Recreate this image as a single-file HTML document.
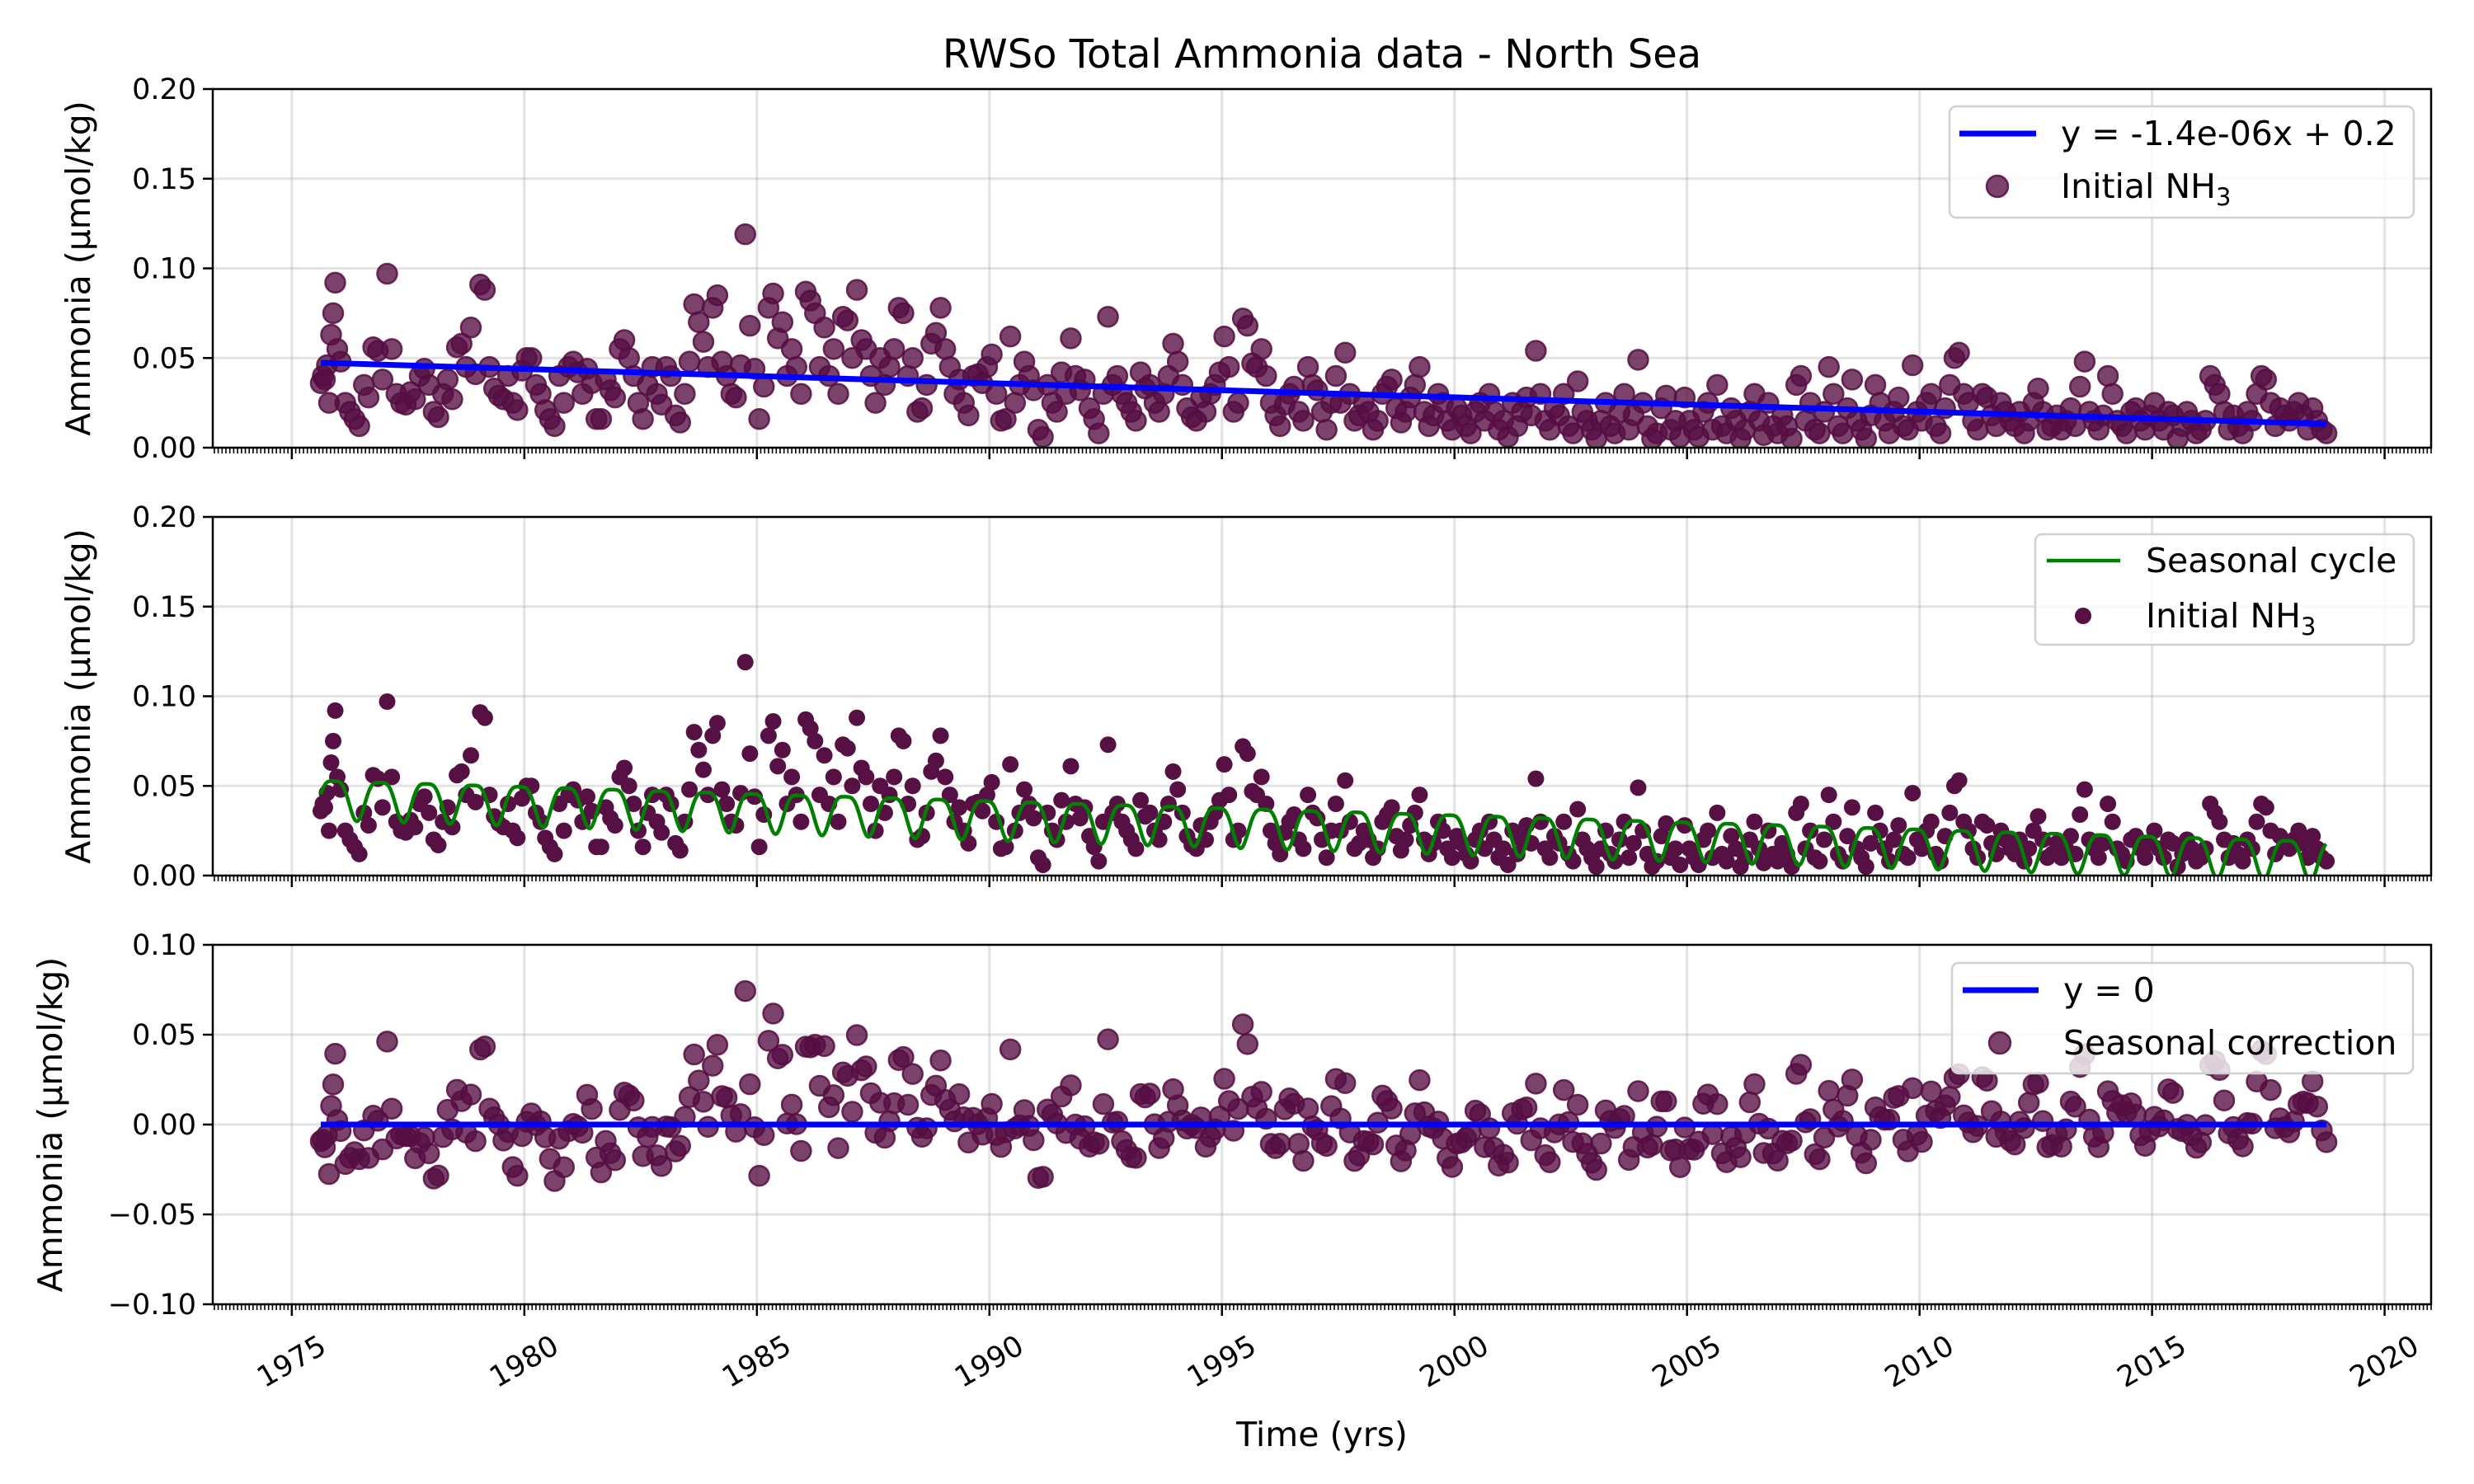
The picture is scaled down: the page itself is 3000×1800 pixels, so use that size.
<!DOCTYPE html>
<html><head><meta charset="utf-8"><style>
html,body{margin:0;padding:0;background:#fff}
svg{display:block;font-family:"DejaVu Sans","Liberation Sans",sans-serif}
</style></head><body>
<svg id="chart" width="3000" height="1800" viewBox="0 0 3000 1800" xmlns="http://www.w3.org/2000/svg">
<rect width="3000" height="1800" fill="#fff"/>
<text x="1603" y="82" font-size="48" text-anchor="middle">RWSo Total Ammonia data - North Sea</text>
<text x="1603" y="1754" font-size="41" text-anchor="middle">Time (yrs)</text>
<g id="layers"></g>
</svg>
<script>
// ---- data ----
const yearRows = [1975.6,1976,1977,1978,1979,1980,1981,1982,1983,1984,1985,1986,1987,1988,1989,1990,1991,1992,1993,1994,1995,1996,1997,1998,1999,2000,2001,2002,2003,2004,2005,2006,2007,2008,2009,2010,2011,2012,2013,2014,2015,2016,2017,2018];
const valueRows = [
[0.036,0.040,0.038,0.046,0.025,0.063,0.075,0.092,0.055],
[0.048,0.025,0.020,0.016,0.012,0.035,0.028,0.056,0.054,0.038],
[0.097,0.055,0.030,0.025,0.024,0.031,0.027,0.040,0.044,0.035],
[0.020,0.017,0.030,0.038,0.027,0.056,0.058,0.045,0.067,0.041],
[0.091,0.088,0.045,0.033,0.029,0.027,0.040,0.025,0.021,0.043],
[0.050,0.050,0.035,0.030,0.021,0.016,0.012,0.040,0.025,0.045],
[0.048,0.042,0.030,0.044,0.036,0.016,0.016,0.038,0.032,0.028],
[0.055,0.060,0.050,0.040,0.025,0.016,0.035,0.045,0.030,0.024],
[0.045,0.040,0.018,0.014,0.030,0.048,0.080,0.070,0.059,0.045],
[0.078,0.085,0.048,0.040,0.030,0.028,0.046,0.119,0.068,0.044],
[0.016,0.034,0.078,0.086,0.061,0.070,0.040,0.055,0.045,0.030],
[0.087,0.082,0.075,0.045,0.067,0.040,0.055,0.030,0.073,0.071],
[0.050,0.088,0.060,0.055,0.040,0.025,0.050,0.035,0.045,0.055],
[0.078,0.075,0.040,0.050,0.020,0.022,0.035,0.058,0.064,0.078],
[0.055,0.045,0.030,0.038,0.025,0.018,0.040,0.041,0.036,0.045],
[0.052,0.030,0.015,0.016,0.062,0.025,0.035,0.048,0.040,0.032],
[0.010,0.006,0.035,0.025,0.020,0.042,0.030,0.061,0.040,0.032],
[0.038,0.022,0.016,0.008,0.030,0.073,0.035,0.040,0.030,0.025],
[0.020,0.015,0.042,0.033,0.035,0.025,0.020,0.030,0.040,0.058],
[0.048,0.035,0.022,0.017,0.015,0.028,0.020,0.030,0.035,0.042],
[0.062,0.045,0.020,0.025,0.072,0.068,0.047,0.045,0.055,0.040],
[0.025,0.018,0.012,0.024,0.030,0.034,0.020,0.015,0.045,0.035],
[0.032,0.020,0.010,0.025,0.040,0.025,0.053,0.030,0.015,0.018],
[0.025,0.020,0.010,0.015,0.030,0.034,0.038,0.022,0.014,0.020],
[0.028,0.035,0.045,0.020,0.012,0.018,0.030,0.025,0.015,0.010],
[0.022,0.018,0.012,0.008,0.020,0.025,0.015,0.030,0.020,0.010],
[0.015,0.006,0.025,0.012,0.020,0.028,0.018,0.054,0.030,0.015],
[0.010,0.022,0.018,0.030,0.012,0.008,0.037,0.020,0.015,0.010],
[0.005,0.015,0.025,0.012,0.008,0.020,0.030,0.010,0.018,0.049],
[0.025,0.012,0.005,0.008,0.022,0.029,0.010,0.015,0.006,0.028],
[0.015,0.010,0.006,0.020,0.025,0.010,0.035,0.012,0.008,0.022],
[0.015,0.005,0.010,0.020,0.030,0.015,0.007,0.025,0.012,0.008],
[0.018,0.012,0.005,0.035,0.040,0.015,0.025,0.010,0.008,0.020],
[0.045,0.030,0.012,0.008,0.022,0.038,0.015,0.010,0.005,0.018],
[0.035,0.025,0.015,0.008,0.020,0.028,0.012,0.010,0.046,0.020],
[0.015,0.025,0.030,0.012,0.008,0.022,0.035,0.050,0.053,0.030],
[0.025,0.015,0.010,0.030,0.028,0.018,0.012,0.025,0.020,0.015],
[0.012,0.020,0.008,0.015,0.025,0.033,0.020,0.010,0.012,0.018],
[0.010,0.015,0.022,0.012,0.034,0.048,0.020,0.015,0.010,0.018],
[0.040,0.030,0.015,0.012,0.008,0.020,0.022,0.015,0.010,0.018],
[0.025,0.015,0.010,0.020,0.018,0.005,0.012,0.020,0.015,0.008],
[0.010,0.015,0.040,0.035,0.030,0.020,0.010,0.018,0.012,0.008],
[0.020,0.015,0.030,0.040,0.038,0.025,0.012,0.022,0.018,0.015],
[0.020,0.025,0.018,0.010,0.022,0.015,0.010,0.008]
];
const yTicksTop = [0,0.05,0.10,0.15,0.20];
const yTickLabelsTop = ["0.00","0.05","0.10","0.15","0.20"];
const yTicksBot = [-0.10,-0.05,0,0.05,0.10];
const yTickLabelsBot = ["\u22120.10","\u22120.05","0.00","0.05","0.10"];
const xTicks = [1975,1980,1985,1990,1995,2000,2005,2010,2015,2020];
const seasonalAmp = 0.011;
const seasonalPeak = 0.9;

// ---- derived ----
const T=[],V=[];
yearRows.forEach((y0,r)=>{const row=valueRows[r];const span=(r===0)?0.4:(r===yearRows.length-1?0.8:1);
 row.forEach((v,i)=>{T.push(y0+span*(i+0.5)/row.length);V.push(v);});});
const n=T.length;let mt=0,mv=0;for(let i=0;i<n;i++){mt+=T[i];mv+=V[i];}mt/=n;mv/=n;
let sxy=0,sxx=0;for(let i=0;i<n;i++){sxy+=(T[i]-mt)*(V[i]-mv);sxx+=(T[i]-mt)**2;}
const slope=sxy/sxx,icpt=mv-slope*mt;
const trend=t=>icpt+slope*t;
const seas=t=>{const th=2*Math.PI*(t-seasonalPeak);return trend(t)+seasonalAmp*(Math.cos(th)-0.25*Math.cos(2*th)-0.25);};
const R=T.map((t,i)=>V[i]-seas(t));
const tMin=Math.min(...T),tMax=Math.max(...T);

// ---- axes ----
const X0=258,X1=2948,XMIN=1973.3,XMAX=2021.0;
const xs=t=>X0+(t-XMIN)/(XMAX-XMIN)*(X1-X0);
const panels=[{top:108,bot:543,min:0,max:0.2,ticks:yTicksTop,labels:yTickLabelsTop,ylab:95},
 {top:627,bot:1062,min:0,max:0.2,ticks:yTicksTop,labels:yTickLabelsTop,ylab:95},
 {top:1146,bot:1582,min:-0.1,max:0.1,ticks:yTicksBot,labels:yTickLabelsBot,ylab:61}];
const NS="http://www.w3.org/2000/svg";
const root=document.getElementById('layers');
function el(tag,attrs,parent){const e=document.createElementNS(NS,tag);for(const k in attrs)e.setAttribute(k,attrs[k]);(parent||root).appendChild(e);return e;}

panels.forEach((p,pi)=>{
 const ys=v=>p.bot-(v-p.min)/(p.max-p.min)*(p.bot-p.top);
 const g=el('g',{});
 
 
 xTicks.forEach(t=>{const l=el('line',{x1:xs(t),x2:xs(t),y1:p.top,y2:p.bot,stroke:'#b0b0b0','stroke-opacity':0.35,'stroke-width':3},g);
  
  });
 p.ticks.forEach((v,i)=>{const l=el('line',{x1:X0,x2:X1,y1:ys(v),y2:ys(v),stroke:'#b0b0b0','stroke-opacity':0.35,'stroke-width':3},g);
  
  
  const tk=el('line',{x1:X0-12,x2:X0,y1:ys(v),y2:ys(v),stroke:'#000','stroke-width':2.5},g);
  
  
  const tx=el('text',{x:X0-20,y:ys(v)+12,'font-size':35,'text-anchor':'end'},g);tx.textContent=p.labels[i];
  
  });
 let d='';for(let m=Math.ceil(XMIN*12);m<=XMAX*12;m++){const x=xs(m/12);d+='M'+x.toFixed(1)+' '+p.bot+'v7';}
 const mt_=el('path',{d:d,stroke:'#000','stroke-width':1.6},g);
 
 
 xTicks.forEach(t=>{const l=el('line',{x1:xs(t),x2:xs(t),y1:p.bot,y2:p.bot+14,stroke:'#000','stroke-width':2.5},g);
  
  });
 const yl=el('text',{x:p.ylab,y:(p.top+p.bot)/2,'font-size':41,'text-anchor':'middle',transform:`rotate(-90 ${p.ylab} ${(p.top+p.bot)/2})`,'dominant-baseline':'central'},g);
 yl.textContent='Ammonia (\u00b5mol/kg)';
 
 
 const clipId='clip'+pi;const cp=el('clipPath',{id:clipId},g);el('rect',{x:X0,y:p.top,width:X1-X0,height:p.bot-p.top},cp);
 const sg=el('g',{'clip-path':`url(#${clipId})`},g);
 if(pi===0){
  T.forEach((t,i)=>{const c=el('circle',{cx:xs(t),cy:ys(V[i]),r:12,fill:'rgba(86,14,66,0.78)',stroke:'rgba(86,14,66,0.85)','stroke-width':2.5},sg);
   
   });
  const ln=el('line',{x1:xs(tMin),x2:xs(tMax),y1:ys(trend(tMin)),y2:ys(trend(tMax)),stroke:'#0000ff','stroke-width':7},sg);
  
  
 } else if(pi===1){
  T.forEach((t,i)=>{const c=el('circle',{cx:xs(t),cy:ys(V[i]),r:10,fill:'#561044'},sg);
   
   });
  let d='';for(let t=tMin;t<=tMax;t+=0.01){d+=(d?'L':'M')+xs(t).toFixed(1)+' '+ys(seas(t)).toFixed(1);}
  const pl=el('path',{d:d,fill:'none',stroke:'#008000','stroke-width':4.5},sg);
  
  
 } else {
  T.forEach((t,i)=>{const c=el('circle',{cx:xs(t),cy:ys(R[i]),r:12,fill:'rgba(86,14,66,0.78)',stroke:'rgba(86,14,66,0.85)','stroke-width':2.5},sg);
   
   });
  const ln=el('line',{x1:xs(tMin),x2:xs(tMax),y1:ys(0),y2:ys(0),stroke:'#0000ff','stroke-width':7},sg);
  
  
  xTicks.forEach(t=>{const cx=xs(t),cy=1652;const tx=el('text',{x:cx,y:cy,'font-size':35,'text-anchor':'middle','dominant-baseline':'central',transform:`rotate(-30 ${cx} ${cy})`},g);
   tx.textContent=t;
   
   });
 }
 el('rect',{x:X0,y:p.top,width:X1-X0,height:p.bot-p.top,fill:'none',stroke:'#000','stroke-width':2.5},g);
});

function legend(x,y,w,h,items,name){
 const g=el('g',{});
 
 
 el('rect',{x:x,y:y,width:w,height:h,rx:8,fill:'rgba(255,255,255,0.8)',stroke:'#d0d0d0','stroke-width':2.5},g);
 items.forEach(it=>{
  if(it.type==='line'){const l=el('line',{x1:it.x0,x2:it.x1,y1:it.y,y2:it.y,stroke:it.color,'stroke-width':it.w},g);
   
   }
  else{const c=el('circle',{cx:it.x0,cy:it.y,r:it.r,fill:it.color,stroke:it.stroke||'none','stroke-width':2.5},g);
   
   }
  const t=el('text',{x:it.tx,y:it.y+14,'font-size':41},g);
  t.innerHTML=it.label;
  
  
 });
}
legend(2364,129,563,135,[
 {type:'line',x0:2376,x1:2469,y:162,color:'#0000ff',w:7,tx:2499,label:'y = -1.4e-06x + 0.2'},
 {type:'dot',x0:2422,y:226,r:13,color:'rgba(86,14,66,0.78)',stroke:'rgba(86,14,66,0.85)',tx:2499,label:'Initial NH<tspan font-size="29" dy="9">3</tspan>'}],'legend-top');
legend(2468,648,459,134,[
 {type:'line',x0:2482,x1:2571,y:680,color:'#008000',w:4.5,tx:2602,label:'Seasonal cycle'},
 {type:'dot',x0:2526,y:747,r:10,color:'#561044',tx:2602,label:'Initial NH<tspan font-size="29" dy="9">3</tspan>'}],'legend-middle');
legend(2367,1168,559,134,[
 {type:'line',x0:2380,x1:2472,y:1201,color:'#0000ff',w:7,tx:2502,label:'y = 0'},
 {type:'dot',x0:2425,y:1265,r:13,color:'rgba(86,14,66,0.78)',stroke:'rgba(86,14,66,0.85)',tx:2502,label:'Seasonal correction'}],'legend-bottom');
</script>
</body></html>
